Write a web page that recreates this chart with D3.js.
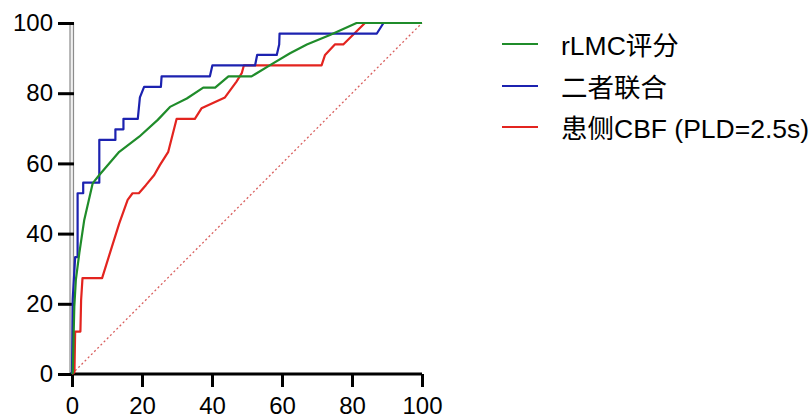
<!DOCTYPE html>
<html>
<head>
<meta charset="utf-8">
<script src="https://cdn.jsdelivr.net/npm/d3@7"></script>
<style>
  body { margin: 0; background: #fff; }
  text { font-family: "Liberation Sans", Arial, "Noto Sans CJK SC", sans-serif; }
</style>
</head>
<body>
<script>
// ROC curves, values in percent (100 - specificity, sensitivity)
var rlmcX = [0, 0.2, 0.66, 1.1, 2.1, 3.5, 5.9, 7.8, 13.5, 19.2, 24.5, 28, 32.8, 37.5, 40.9, 44.7, 51.3, 56.6, 62.3, 67.1, 73.7, 81.3, 100];
var rlmcY = [0, 0.3, 19.2, 26.8, 34.5, 43.9, 54.3, 56.7, 63.3, 67.6, 72.4, 76.1, 78.5, 81.6, 81.6, 84.8, 84.8, 88, 91.4, 93.9, 96.6, 100, 100];

var combX = [0, 0.2, 0.9, 1.6, 1.6, 3.2, 3.2, 7.8, 7.8, 12.4, 12.4, 14.7, 14.7, 18.8, 19.4, 20.6, 25.4, 25.6, 39.4, 40.1, 52.3, 52.9, 58.5, 59.2, 59.3, 87.1, 89, 100];
var combY = [0, 21.2, 33.3, 33.3, 51.5, 51.5, 54.5, 54.5, 66.7, 66.7, 69.7, 69.7, 72.7, 72.7, 78.8, 81.8, 81.8, 84.8, 84.8, 87.9, 87.9, 90.9, 90.9, 93.9, 97, 97, 100, 100];

var cbfX = [0, 0.7, 0.9, 2.4, 2.6, 3, 8.6, 11.1, 13.5, 15.9, 17.3, 19.1, 21.1, 23.5, 25.1, 27.5, 29.9, 35.1, 37, 43.7, 47, 48.5, 49.1, 71.3, 72.3, 75.1, 77.5, 83.7, 100];
var cbfY = [0, 0.5, 12.1, 12.1, 21, 27.3, 27.3, 35.3, 42.9, 49.6, 51.5, 51.5, 53.8, 56.7, 59.5, 63.3, 72.7, 72.7, 75.7, 78.8, 83.3, 85.7, 87.9, 87.9, 90.9, 93.9, 93.9, 100, 100];

var xTicks = [0, 20, 40, 60, 80, 100];
var yTicks = [0, 20, 40, 60, 80, 100];
var seriesNames = ["rLMC评分", "二者联合", "患侧CBF (PLD=2.5s)"];
var seriesColors = ["#1f8c2a", "#1c22b0", "#e3241f"];

var width = 810, height = 420;
var svg = d3.select("body").append("svg")
    .attr("width", width)
    .attr("height", height);

var x = d3.scaleLinear().domain([0, 100]).range([72, 422]);
var y = d3.scaleLinear().domain([0, 100]).range([374, 23]);

// reference diagonal
svg.append("line")
    .attr("x1", x(0)).attr("y1", y(0))
    .attr("x2", x(100)).attr("y2", y(100))
    .attr("stroke", "#d9605f")
    .attr("stroke-width", 1.3)
    .attr("stroke-dasharray", "2,2.5");

// y axis: grey double rule like the original
svg.append("rect")
    .attr("x", x(0) - 2).attr("y", y(100))
    .attr("width", 3.5).attr("height", y(0) - y(100))
    .attr("fill", "#f0f0f0")
    .attr("stroke", "#8c8c8c")
    .attr("stroke-width", 1.2);

var yAxis = svg.append("g")
    .attr("transform", "translate(" + (x(0) + 2) + ",0)")
    .call(d3.axisLeft(y).tickValues(yTicks).tickSize(16).tickPadding(5));
yAxis.select(".domain").remove();
yAxis.selectAll("line").attr("stroke", "#000").attr("stroke-width", 3);
yAxis.selectAll("text").attr("font-size", 24).attr("fill", "#000");

var xAxis = svg.append("g")
    .attr("transform", "translate(0," + y(0) + ")")
    .call(d3.axisBottom(x).tickValues(xTicks).tickSize(13).tickPadding(10).tickSizeOuter(0));
xAxis.select(".domain").attr("stroke", "#000").attr("stroke-width", 3)
    .attr("d", "M" + (x(0) - 2) + ",0H" + x(100));
xAxis.selectAll("line").attr("stroke", "#000").attr("stroke-width", 3);
xAxis.selectAll("text").attr("font-size", 24).attr("fill", "#000");

var line = d3.line()
    .x(function(d) { return x(d[0]); })
    .y(function(d) { return y(d[1]); });

function pairs(xs, ys) {
    return xs.map(function(v, i) { return [v, ys[i]]; });
}

var curves = [pairs(cbfX, cbfY), pairs(combX, combY), pairs(rlmcX, rlmcY)];
var curveColors = [seriesColors[2], seriesColors[1], seriesColors[0]];

svg.selectAll(".roc").data(curves)
    .enter().append("path")
    .attr("class", "roc")
    .attr("d", line)
    .attr("fill", "none")
    .attr("stroke", function(d, i) { return curveColors[i]; })
    .attr("stroke-width", 2.2)
    .attr("stroke-linejoin", "round");

// legend
var legendY = [44, 86, 127];
var legend = svg.selectAll(".legend").data(seriesNames)
    .enter().append("g")
    .attr("class", "legend")
    .attr("transform", function(d, i) { return "translate(0," + legendY[i] + ")"; });
legend.append("line")
    .attr("x1", 502).attr("x2", 538)
    .attr("stroke", function(d, i) { return seriesColors[i]; })
    .attr("stroke-width", 1.8);
legend.append("text")
    .attr("x", 561)
    .attr("y", 2)
    .attr("dominant-baseline", "central")
    .attr("font-size", 26.5)
    .attr("fill", "#000")
    .text(function(d) { return d; });
</script>
</body>
</html>
